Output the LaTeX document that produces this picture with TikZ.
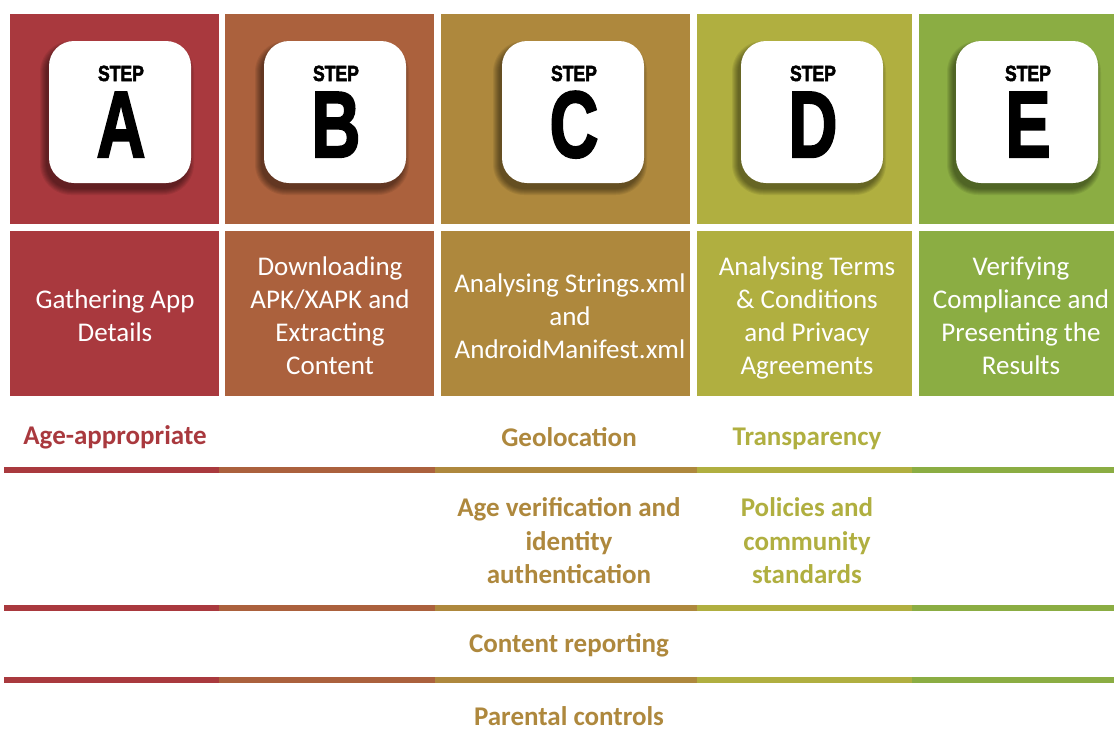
\documentclass[tikz,border=0pt]{standalone}
\usepackage{fontspec}
\setmainfont{Carlito}
\newfontfamily\stepfont{Liberation Sans}[BoldFeatures={FakeBold=2.5}]
\definecolor{colA}{RGB}{169,57,62}
\definecolor{colB}{RGB}{171,97,61}
\definecolor{colC}{RGB}{174,136,61}
\definecolor{colD}{RGB}{176,175,64}
\definecolor{colE}{RGB}{139,173,67}
\tikzset{
  colbox/.style={fill=#1, draw=none, inner sep=0pt},
  midtext/.style={text=white, align=center, inner sep=0pt, font=\fontsize{27}{33}\selectfont},
  crit/.style={text=#1, align=center, inner sep=0pt, font=\bfseries\fontsize{27}{33.5}\selectfont},
  iconbox/.style={fill=white, draw=none, rounded corners=25pt, minimum width=142pt, minimum height=142pt, inner sep=0pt},
  steplabel/.style={anchor=base, inner sep=0pt, font=\stepfont\bfseries\fontsize{22}{22}\selectfont},
  stepletter/.style={anchor=base, inner sep=0pt, font=\stepfont\bfseries\fontsize{94}{94}\selectfont},
  divider/.style={line width=6pt, draw=#1}
}
\begin{document}
\begin{tikzpicture}[x=1pt,y=-1pt]
\useasboundingbox (0,0) rectangle (1114,745);
% columns
\foreach \n/\xa/\xb/\c/\ic in {A/10/219/colA/120, B/225/434/colB/335, C/441/690/colC/573, D/697/912/colD/812, E/919/1114/colE/1027}{
  \node[colbox=\c, minimum width={\xb-\xa}, minimum height=210] (top\n) at ({(\xa+\xb)/2},119) {};
  \node[colbox=\c, minimum width={\xb-\xa}, minimum height=165] (mid\n) at ({(\xa+\xb)/2},313.5) {};
  % soft shadow
  \foreach \k in {0,...,6}{
    \fill[black, opacity=0.07, rounded corners={25+\k}]
      ({\ic-71-3-\k},{112-71+6-\k}) rectangle ({\ic+71-3+\k},{112+71+6+\k});
  }
  \node[iconbox] (icon\n) at (\ic,112) {};
  \node[steplabel] (step\n) at (\ic+1,81) {\scalebox{0.8}[1]{STEP}};
  \node[stepletter] (let\n) at (\ic+1,157) {\scalebox{0.72}[1]{\n}};
}
% second-row texts
\node[midtext] (tA) at (115,316) {Gathering App\\Details};
\node[midtext] (tB) at (330,316) {Downloading\\APK/XAPK and\\Extracting\\Content};
\node[midtext] (tC) at (570,316) {Analysing Strings.xml\\and\\AndroidManifest.xml};
\node[midtext] (tD) at (807,317.5) {Analysing Terms\\\& Conditions\\and Privacy\\Agreements};
\node[midtext] (tE) at (1021,316) {Verifying\\Compliance and\\Presenting the\\Results};
% dividers
\foreach \yy in {470,608,680}{
  \draw[divider=colA] (4,\yy) -- (219,\yy);
  \draw[divider=colB] (219,\yy) -- (435,\yy);
  \draw[divider=colC] (435,\yy) -- (697,\yy);
  \draw[divider=colD] (697,\yy) -- (912,\yy);
  \draw[divider=colE] (912,\yy) -- (1114,\yy);
}
% criteria
\node[crit=colA] (c1) at (115,437) {Age-appropriate};
\node[crit=colC] (c2) at (569,437) {Geolocation};
\node[crit=colD] (c3) at (807,438.5) {Transparency};
\node[crit=colC] (c4) at (569,541) {Age verification and\\identity\\authentication};
\node[crit=colD] (c5) at (807,541) {Policies and\\community\\standards};
\node[crit=colC] (c6) at (569,645) {Content reporting};
\node[crit=colC] (c7) at (569,716) {Parental controls};
\end{tikzpicture}
\end{document}
